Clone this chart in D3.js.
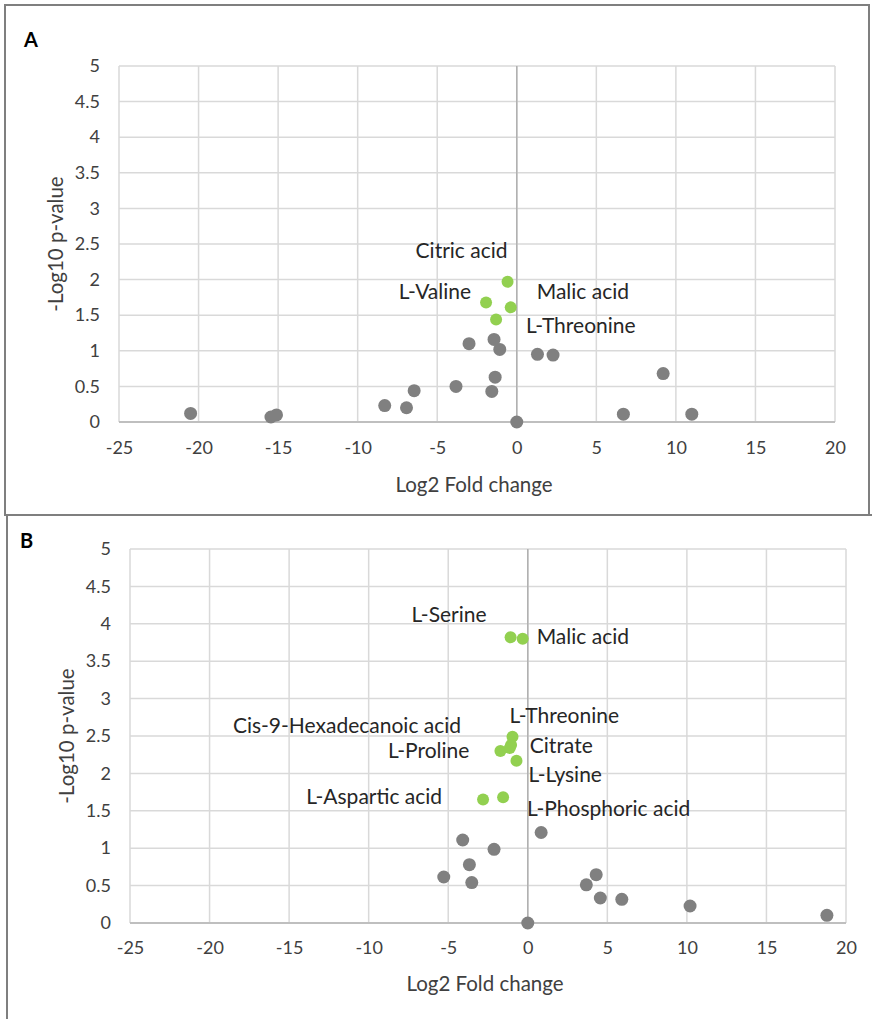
<!DOCTYPE html>
<html>
<head>
<meta charset="utf-8">
<script src="https://cdn.jsdelivr.net/npm/d3@7"></script>
<style>
  body { margin: 0; background: #fff; }
  svg { display: block; font-family: Lato, "Open Sans", sans-serif; }
</style>
</head>
<body>
<svg id="chart" width="872" height="1019"></svg>
<script>
// axis ticks (shared by both panels)
var xTicks = [-25, -20, -15, -10, -5, 0, 5, 10, 15, 20];
var yTicks = [0, 0.5, 1, 1.5, 2, 2.5, 3, 3.5, 4, 4.5, 5];

// panel A - not significant (gray)
var aGrayX = [-20.5, -15.45, -15.1, -8.3, -6.93, -6.45, -3.82, -3.0, -1.57, -1.43, -1.36, -1.07, 0, 1.30, 2.28, 6.7, 9.2, 11.0];
var aGrayY = [0.12, 0.07, 0.10, 0.23, 0.20, 0.44, 0.50, 1.10, 0.43, 1.16, 0.63, 1.02, 0, 0.95, 0.94, 0.11, 0.68, 0.11];
// panel A - significant (green)
var aNames = ["Citric acid", "L-Valine", "Malic acid", "L-Threonine"];
var aGreenX = [-0.58, -1.93, -0.38, -1.30];
var aGreenY = [1.97, 1.68, 1.61, 1.44];

// panel B - not significant (gray)
var bGrayX = [-5.28, -4.09, -3.67, -3.52, -2.12, 0, 0.84, 3.68, 4.30, 4.56, 5.91, 10.2, 18.8];
var bGrayY = [0.615, 1.11, 0.78, 0.54, 0.985, 0, 1.21, 0.51, 0.646, 0.334, 0.317, 0.227, 0.103];
// panel B - significant (green)
var bNames = ["L-Serine", "Malic acid", "L-Threonine", "Cis-9-Hexadecanoic acid", "L-Proline", "Citrate", "L-Lysine", "L-Aspartic acid", "L-Phosphoric acid"];
var bGreenX = [-1.08, -0.32, -0.96, -1.05, -1.72, -1.13, -0.71, -2.81, -1.55];
var bGreenY = [3.82, 3.80, 2.49, 2.38, 2.30, 2.34, 2.17, 1.65, 1.68];

// label placement (pixel offsets from the point, Excel-style data labels)
var aLabelPos = [
  {dx: 0, dy: -31, anchor: "end"},
  {dx: -15, dy: -11, anchor: "end"},
  {dx: 26, dy: -16, anchor: "start"},
  {dx: 30, dy: 6, anchor: "start"}
];
var bLabelPos = [
  {dx: -24, dy: -23, anchor: "end"},
  {dx: 14, dy: -2, anchor: "start"},
  {dx: -3, dy: -21, anchor: "start"},
  {dx: -50, dy: -19, anchor: "end"},
  {dx: -31, dy: 0, anchor: "end"},
  {dx: 20, dy: -2, anchor: "start"},
  {dx: 12, dy: 14, anchor: "start"},
  {dx: -41, dy: -3, anchor: "end"},
  {dx: 24, dy: 11, anchor: "start"}
];

var svg = d3.select("#chart");

function drawPanel(p) {
  var g = svg.append("g");

  // panel frame
  g.append("rect")
    .attr("x", p.frame[0]).attr("y", p.frame[1])
    .attr("width", p.frame[2]).attr("height", p.frame[3])
    .attr("fill", "none")
    .attr("stroke", "#7f7f7f")
    .attr("stroke-width", 2);

  g.append("text")
    .attr("x", p.letterPos[0]).attr("y", p.letterPos[1])
    .style("font-size", "20px")
    .style("font-weight", "bold")
    .text(p.letter);

  var x = d3.scaleLinear().domain([-25, 20]).range([p.left, p.right]);
  var y = d3.scaleLinear().domain([0, 5]).range([p.bottom, p.top]);

  // gridlines
  g.selectAll("line.vgrid").data(xTicks).enter().append("line")
    .attr("x1", d => x(d)).attr("x2", d => x(d))
    .attr("y1", p.top).attr("y2", p.bottom)
    .attr("stroke", "#d9d9d9").attr("stroke-width", 1.5);
  g.selectAll("line.hgrid").data(yTicks).enter().append("line")
    .attr("x1", p.left).attr("x2", p.right)
    .attr("y1", d => y(d)).attr("y2", d => y(d))
    .attr("stroke", "#d9d9d9").attr("stroke-width", 1.5);

  // axis lines (x axis at y=0, y axis at x=0)
  g.append("line")
    .attr("x1", p.left).attr("x2", p.right)
    .attr("y1", y(0)).attr("y2", y(0))
    .attr("stroke", "#bfbfbf").attr("stroke-width", 2);
  g.append("line")
    .attr("x1", x(0)).attr("x2", x(0))
    .attr("y1", p.top).attr("y2", p.bottom)
    .attr("stroke", "#b0b0b0").attr("stroke-width", 1.5);

  // tick labels (plain hyphen for negatives, as in the original)
  var xAxis = g.append("g")
    .attr("transform", "translate(0," + p.bottom + ")")
    .call(d3.axisBottom(x).tickValues(xTicks).tickSize(0).tickPadding(p.xTickPad).tickFormat(d => String(d)));
  var yAxis = g.append("g")
    .attr("transform", "translate(" + p.left + ",0)")
    .call(d3.axisLeft(y).tickValues(yTicks).tickSize(0).tickPadding(19).tickFormat(d => String(d)));
  [xAxis, yAxis].forEach(function (ax) {
    ax.select(".domain").remove();
    ax.selectAll("text").style("font-size", "18px").style("font-family", "Lato, sans-serif").attr("fill", "#404040");
  });

  // axis titles
  g.append("text")
    .attr("x", (p.left + p.right) / 2 - 3).attr("y", p.xTitleY)
    .attr("text-anchor", "middle")
    .style("font-size", "20.5px").attr("fill", "#404040")
    .text("Log2 Fold change");
  g.append("text")
    .attr("transform", "translate(" + p.yTitleX + "," + (p.top + p.bottom) / 2 + ") rotate(-90)")
    .attr("text-anchor", "middle")
    .style("font-size", "20.5px").attr("fill", "#404040")
    .text("-Log10 p-value");

  // points
  g.selectAll("circle.gray").data(p.grayX).enter().append("circle")
    .attr("cx", d => x(d))
    .attr("cy", (d, i) => y(p.grayY[i]))
    .attr("r", 6.5)
    .attr("fill", "#808080");
  g.selectAll("circle.green").data(p.greenX).enter().append("circle")
    .attr("cx", d => x(d))
    .attr("cy", (d, i) => y(p.greenY[i]))
    .attr("r", 6)
    .attr("fill", "#92d050");

  // data labels
  g.selectAll("text.lbl").data(p.names).enter().append("text")
    .attr("x", (d, i) => x(p.greenX[i]) + p.labels[i].dx)
    .attr("y", (d, i) => y(p.greenY[i]) + p.labels[i].dy)
    .attr("dy", "0.35em")
    .attr("text-anchor", (d, i) => p.labels[i].anchor)
    .style("font-size", "21px")
    .attr("fill", "#262626")
    .text(d => d);
}

drawPanel({
  frame: [5, 5, 864, 510], letter: "A", letterPos: [24, 47],
  left: 119, right: 835, top: 66, bottom: 422,
  xTickPad: 19, xTitleY: 492, yTitleX: 63,
  grayX: aGrayX, grayY: aGrayY,
  greenX: aGreenX, greenY: aGreenY, names: aNames, labels: aLabelPos
});

drawPanel({
  frame: [7, 515, 900, 600], letter: "B", letterPos: [20, 548],
  left: 130, right: 846, top: 549, bottom: 923,
  xTickPad: 18, xTitleY: 991, yTitleX: 74,
  grayX: bGrayX, grayY: bGrayY,
  greenX: bGreenX, greenY: bGreenY, names: bNames, labels: bLabelPos
});
</script>
</body>
</html>
